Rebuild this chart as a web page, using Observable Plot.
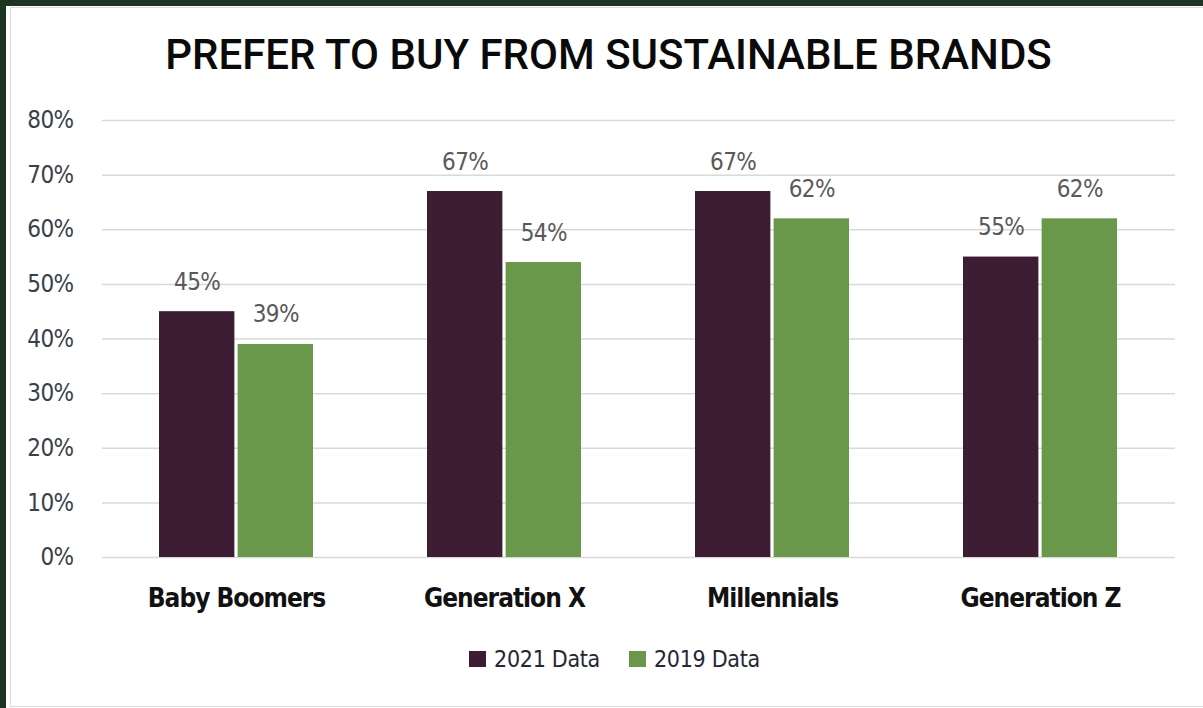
<!DOCTYPE html>
<html>
<head>
<meta charset="utf-8">
<script src="https://cdn.jsdelivr.net/npm/d3@7"></script>
<script src="https://cdn.jsdelivr.net/npm/@observablehq/plot@0.6"></script>
<style>
  html, body { margin: 0; padding: 0; }
  body { width: 1203px; height: 708px; background: #1c3520; position: relative; overflow: hidden; }
  #panel { position: absolute; left: 6px; top: 6px; right: 0; bottom: 0; background: #fff; }
  #panel::before { content: ""; position: absolute; left: 4px; top: 1px; right: -2px; bottom: 1px; border: 1px solid #dcdcdc; }
  #title { position: absolute; left: 7px; width: 1203px; top: 30px; text-align: center;
    font-family: Roboto, "Noto Sans", sans-serif; font-weight: 500; font-size: 42px; color: #0a0a0a; }
  #chart { position: absolute; left: 0; top: 95px; }
  #chart svg text { letter-spacing: -0.6px; }
  #chart svg [aria-label="x-axis tick label"] text { letter-spacing: -1px; }
  #legend { position: absolute; left: 13px; width: 1203px; top: 646px; display: flex; justify-content: center; gap: 29px;
    font-family: "DejaVu Sans Condensed", sans-serif; font-size: 23px; color: #262636; letter-spacing: -0.3px; }
  .item { display: flex; align-items: center; gap: 8px; }
  .swatch { width: 17px; height: 16px; display: inline-block; }
</style>
</head>
<body>
<div id="panel"></div>
<div id="title">PREFER TO BUY FROM SUSTAINABLE BRANDS</div>
<div id="chart"></div>
<div id="legend"></div>
<script>
// Generations and the share that prefers sustainable brands, by survey year
const groups = ["Baby Boomers", "Generation X", "Millennials", "Generation Z"];
const series = ["2021 Data", "2019 Data"];
const values2021 = [45, 67, 67, 55];
const values2019 = [39, 54, 62, 62];
const yTicks = [0, 10, 20, 30, 40, 50, 60, 70, 80];
const colors = ["#3c1d33", "#6a984b"];

const rows2021 = groups.map((g, i) => ({group: g, series: series[0], value: values2021[i]}));
const rows2019 = groups.map((g, i) => ({group: g, series: series[1], value: values2019[i]}));

const font = '"DejaVu Sans Condensed", sans-serif';

// Band geometry: each generation gets one band, split into two side-by-side bars.
const width = 1203, marginLeft = 102, marginRight = 28;
const paddingInner = 0.425, paddingOuter = paddingInner / 2;
const step = (width - marginLeft - marginRight) / (groups.length - paddingInner + 2 * paddingOuter);
const bandwidth = step * (1 - paddingInner);
const barGap = 3;
const barWidth = (bandwidth - barGap) / 2;
const labelShift = (barWidth + barGap) / 2;

const labelStyle = {x: "group", y: "value", text: d => d.value + "%", lineAnchor: "bottom", dy: -22, fontSize: 24, fill: "#595959"};

const chart = Plot.plot({
  width,
  height: 530,
  marginLeft,
  marginRight,
  marginTop: 25,
  marginBottom: 68,
  style: {fontFamily: font, background: "transparent"},
  x: {domain: groups, paddingInner, paddingOuter, label: null},
  y: {domain: [0, 80], label: null},
  color: {domain: series, range: colors},
  marks: [
    Plot.gridY(yTicks, {stroke: "#d9d9d9", strokeOpacity: 1, strokeWidth: 1.5}),
    Plot.axisY(yTicks, {tickSize: 0, tickPadding: 29, tickFormat: d => d + "%", fontSize: 24, fill: "#3a3f4a", label: null}),
    Plot.axisX({tickSize: 0, tickPadding: 31, fontSize: 26, fontWeight: "bold", fill: "#111", label: null}),
    Plot.barY(rows2021, {x: "group", y: "value", fill: "series", insetRight: barWidth + barGap}),
    Plot.barY(rows2019, {x: "group", y: "value", fill: "series", insetLeft: barWidth + barGap}),
    Plot.text(rows2021, {...labelStyle, dx: -labelShift}),
    Plot.text(rows2019, {...labelStyle, dx: labelShift})
  ]
});
document.getElementById("chart").append(chart);

// Legend built from the same series and colours
const legend = document.getElementById("legend");
series.forEach((s, i) => {
  const item = document.createElement("div");
  item.className = "item";
  const sw = document.createElement("span");
  sw.className = "swatch";
  sw.style.background = colors[i];
  const label = document.createElement("span");
  label.textContent = s;
  item.append(sw, label);
  legend.append(item);
});
</script>
</body>
</html>
